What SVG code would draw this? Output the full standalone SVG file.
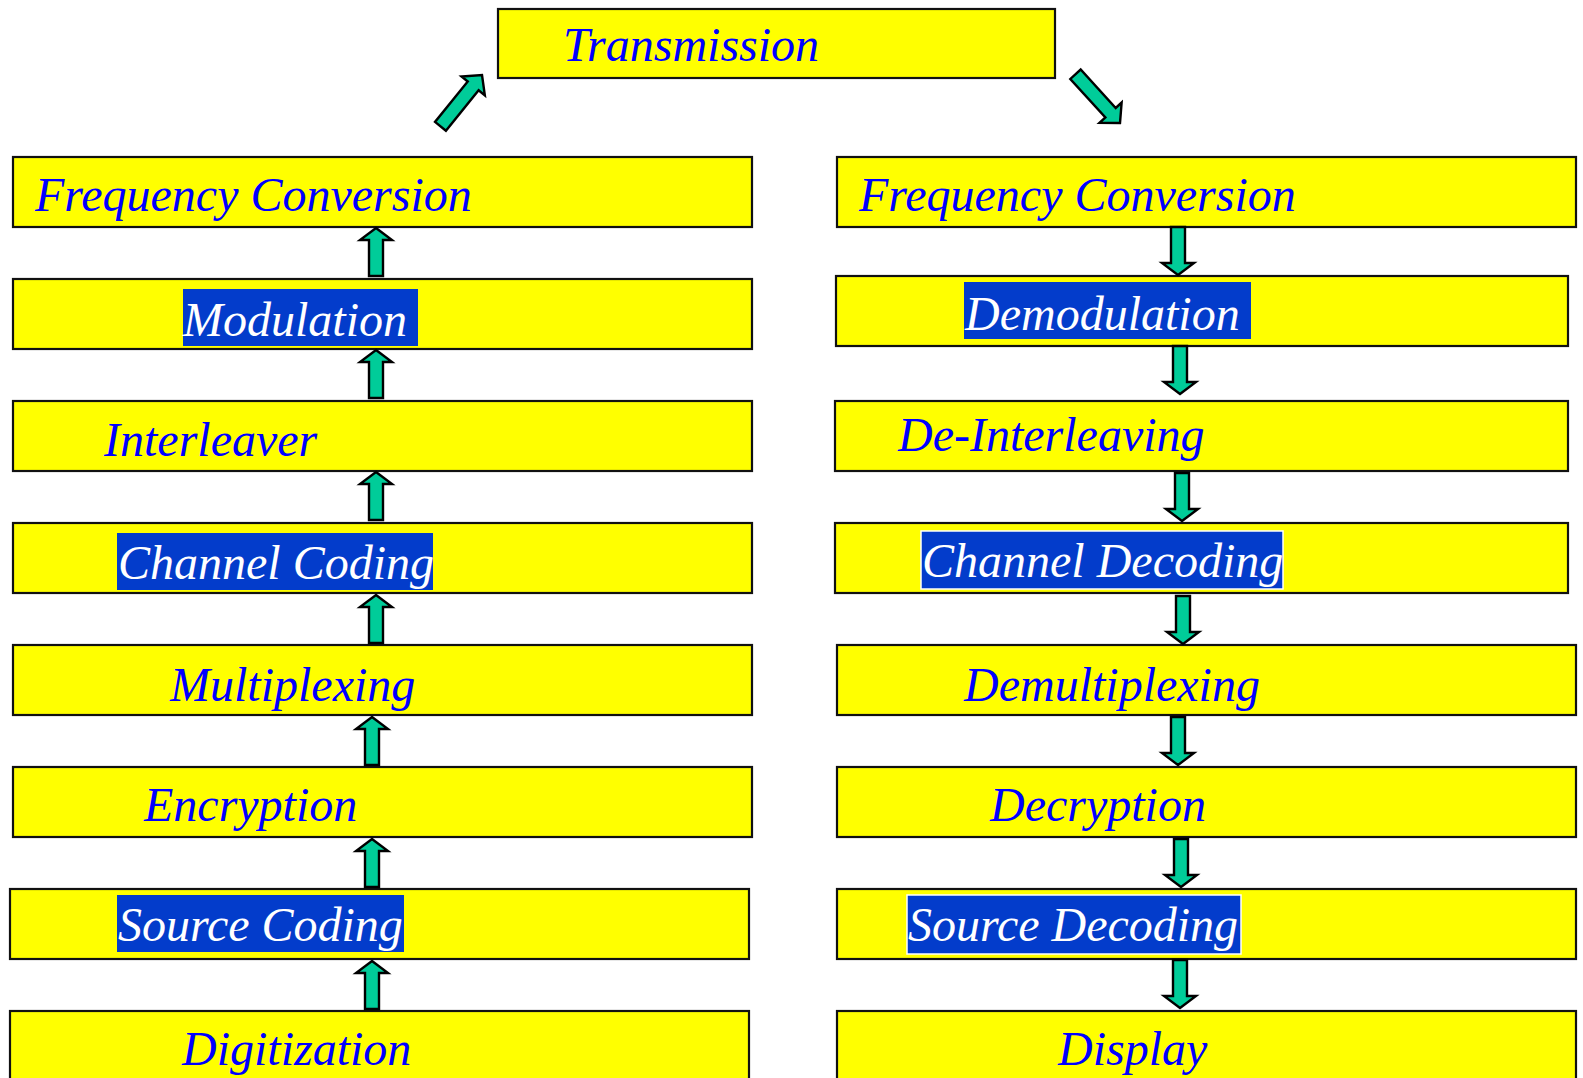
<svg xmlns="http://www.w3.org/2000/svg" xmlns:xlink="http://www.w3.org/1999/xlink" width="1583" height="1078" viewBox="0 0 1583 1078">
  <style>
    .box { fill: #FFFF00; stroke: #111; stroke-width: 2.2; }
    .lbl { font-family: "Liberation Serif", "Times New Roman", serif; font-style: italic; font-size: 48px; fill: #0000FF; }
    .hl { fill: #033CCB; }
    .hlb { fill: #033CCB; stroke: #FFFFFF; stroke-width: 1.5; }
    .inv { fill: #FFFFFF; }
    .arr { fill: #00CC99; stroke: #000; stroke-width: 2.4; stroke-linejoin: miter; }
  </style>
  <defs>
    <!-- block arrow pointing up, tip at origin -->
    <path id="up" class="arr" d="M0,0 L16,12 L7,12 L7,48 L-7,48 L-7,12 L-16,12 Z"/>
    <!-- block arrow pointing down, tip at origin -->
    <path id="down" class="arr" d="M0,0 L16,-12 L7,-12 L7,-48 L-7,-48 L-7,-12 L-16,-12 Z"/>
    <!-- longer arrow for the diagonal links -->
    <path id="diag" class="arr" d="M0,0 L15,14 L7,14 L7,66 L-7,66 L-7,14 L-15,14 Z"/>
  </defs>
  <rect width="1583" height="1078" fill="#FFFFFF"/>

  <g id="transmission">
    <rect class="box" x="498" y="9" width="557" height="69"/>
    <text class="lbl" x="563" y="61">Transmission</text>
  </g>

  <!-- transmit chain -->
  <g id="tx-frequency-conversion">
    <rect class="box" x="13" y="157" width="739" height="70"/>
    <text class="lbl" x="35" y="211">Frequency Conversion</text>
  </g>
  <g id="tx-modulation">
    <rect class="box" x="13" y="279" width="739" height="70"/>
    <rect class="hl" x="183" y="289" width="235" height="57"/>
    <text class="lbl inv" x="183" y="336">Modulation</text>
  </g>
  <g id="tx-interleaver">
    <rect class="box" x="13" y="401" width="739" height="70"/>
    <text class="lbl" x="104" y="456">Interleaver</text>
  </g>
  <g id="tx-channel-coding">
    <rect class="box" x="13" y="523" width="739" height="70"/>
    <rect class="hl" x="117" y="533" width="316" height="57"/>
    <text class="lbl inv" x="118" y="579">Channel Coding</text>
  </g>
  <g id="tx-multiplexing">
    <rect class="box" x="13" y="645" width="739" height="70"/>
    <text class="lbl" x="170" y="701">Multiplexing</text>
  </g>
  <g id="tx-encryption">
    <rect class="box" x="13" y="767" width="739" height="70"/>
    <text class="lbl" x="144" y="821">Encryption</text>
  </g>
  <g id="tx-source-coding">
    <rect class="box" x="10" y="889" width="739" height="70"/>
    <rect class="hl" x="117" y="895" width="287" height="57"/>
    <text class="lbl inv" x="118" y="941">Source Coding</text>
  </g>
  <g id="tx-digitization">
    <rect class="box" x="10" y="1011" width="739" height="80"/>
    <text class="lbl" x="182" y="1065">Digitization</text>
  </g>

  <!-- receive chain -->
  <g id="rx-frequency-conversion">
    <rect class="box" x="837" y="157" width="739" height="70"/>
    <text class="lbl" x="859" y="211">Frequency Conversion</text>
  </g>
  <g id="rx-demodulation">
    <rect class="box" x="836" y="276" width="732" height="70"/>
    <rect class="hl" x="964" y="282" width="287" height="57"/>
    <text class="lbl inv" x="965" y="330">Demodulation</text>
  </g>
  <g id="rx-de-interleaving">
    <rect class="box" x="835" y="401" width="733" height="70"/>
    <text class="lbl" x="898" y="451">De-Interleaving</text>
  </g>
  <g id="rx-channel-decoding">
    <rect class="box" x="835" y="523" width="733" height="70"/>
    <rect class="hlb" x="921" y="531" width="362" height="58"/>
    <text class="lbl inv" x="922" y="577">Channel Decoding</text>
  </g>
  <g id="rx-demultiplexing">
    <rect class="box" x="837" y="645" width="739" height="70"/>
    <text class="lbl" x="964" y="701">Demultiplexing</text>
  </g>
  <g id="rx-decryption">
    <rect class="box" x="837" y="767" width="739" height="70"/>
    <text class="lbl" x="990" y="821">Decryption</text>
  </g>
  <g id="rx-source-decoding">
    <rect class="box" x="837" y="889" width="739" height="70"/>
    <rect class="hlb" x="907" y="895" width="334" height="59"/>
    <text class="lbl inv" x="908" y="941">Source Decoding</text>
  </g>
  <g id="rx-display">
    <rect class="box" x="837" y="1011" width="739" height="80"/>
    <text class="lbl" x="1058" y="1065">Display</text>
  </g>

  <g id="connectors">
    <!-- transmit chain, upward -->
    <use xlink:href="#up" x="376" y="228"/>
    <use xlink:href="#up" x="376" y="350"/>
    <use xlink:href="#up" x="376" y="472"/>
    <use xlink:href="#up" x="376" y="595"/>
    <use xlink:href="#up" x="372" y="717"/>
    <use xlink:href="#up" x="372" y="839"/>
    <use xlink:href="#up" x="372" y="961"/>
    <!-- receive chain, downward -->
    <use xlink:href="#down" x="1178" y="275"/>
    <use xlink:href="#down" x="1180" y="394"/>
    <use xlink:href="#down" x="1182" y="521"/>
    <use xlink:href="#down" x="1183" y="644"/>
    <use xlink:href="#down" x="1178" y="765"/>
    <use xlink:href="#down" x="1181" y="887"/>
    <use xlink:href="#down" x="1180" y="1008"/>
    <!-- links to and from the channel -->
    <use xlink:href="#diag" transform="translate(482,75) rotate(39)"/>
    <use xlink:href="#diag" transform="translate(1120,123) rotate(137.6)"/>
  </g>
</svg>
